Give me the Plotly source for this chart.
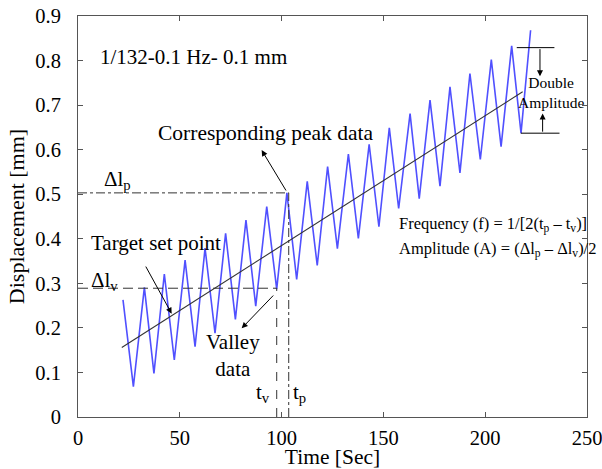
import plotly.graph_objects as go

# ---- data ----
time_s = [22.1, 27.2, 32.6, 37.3, 42.4, 47.3, 52.6, 57.5, 62.4, 67.3, 72.5, 77.3, 82.5, 87.3,
          92.7, 97.6, 102.6, 107.4, 112.6, 117.5, 122.6, 127.4, 132.8, 137.7, 143.0, 147.8,
          152.9, 157.5, 163.1, 167.6, 172.9, 177.8, 182.7, 187.6, 192.5, 197.6, 203.0, 207.8,
          213.0, 217.6, 222.3]
displacement = [0.263, 0.068, 0.291, 0.098, 0.321, 0.128, 0.352, 0.158, 0.379, 0.188, 0.412,
                0.219, 0.442, 0.249, 0.472, 0.287, 0.503, 0.309, 0.529, 0.340, 0.562, 0.378,
                0.590, 0.401, 0.612, 0.427, 0.649, 0.468, 0.681, 0.490, 0.711, 0.518, 0.741,
                0.548, 0.771, 0.578, 0.802, 0.607, 0.833, 0.637, 0.868]
trend_t = [21.5, 218.4]
trend_d = [0.156, 0.730]

dl_p = 0.503
dl_v = 0.289
t_p = 103.5
t_v = 97.6
da_top = 0.829
da_bottom = 0.637

x_ticks = [0, 50, 100, 150, 200, 250]
y_ticks = [0, 0.1, 0.2, 0.3, 0.4, 0.5, 0.6, 0.7, 0.8, 0.9]

FONT = "Liberation Serif"
LINEC = "#333333"

fig = go.Figure()
fig.add_trace(go.Scatter(x=time_s, y=displacement, mode="lines",
                         line=dict(color="#5050ff", width=1.6), showlegend=False))
fig.add_trace(go.Scatter(x=trend_t, y=trend_d, mode="lines",
                         line=dict(color="#333333", width=1.1), showlegend=False))

# reference lines
fig.add_shape(type="line", x0=0, x1=t_p, y0=dl_p, y1=dl_p,
              line=dict(color=LINEC, width=1, dash="dashdot"))
fig.add_shape(type="line", x0=t_p, x1=t_p, y0=0, y1=dl_p,
              line=dict(color=LINEC, width=1, dash="dashdot"))
fig.add_shape(type="line", x0=0, x1=t_v, y0=dl_v, y1=dl_v,
              line=dict(color=LINEC, width=1, dash="10px,5px"))
fig.add_shape(type="line", x0=t_v, x1=t_v, y0=0, y1=dl_v,
              line=dict(color=LINEC, width=1, dash="dash"))

# double amplitude markers
fig.add_shape(type="line", x0=215.5, x1=234.0, y0=da_top, y1=da_top,
              line=dict(color="black", width=1))
fig.add_shape(type="line", x0=217.5, x1=236.5, y0=da_bottom, y1=da_bottom,
              line=dict(color="black", width=1))

def arrow(x, y, ax, ay):
    fig.add_annotation(x=x, y=y, ax=ax, ay=ay, xref="x", yref="y", axref="x", ayref="y",
                       text="", showarrow=True, arrowhead=2, arrowsize=1.2,
                       arrowwidth=1, arrowcolor="black")

arrow(90.2, 0.599, 102.6, 0.505)      # corresponding peak
arrow(46.0, 0.232, 32.9, 0.341)        # target set point
arrow(80.4, 0.199, 96.6, 0.276)        # valley data
arrow(226.9, 0.765, 226.9, da_top)     # double amplitude top
arrow(228.2, 0.681, 228.2, da_bottom)  # double amplitude bottom

def label(x, y, text, size=18):
    fig.add_annotation(x=x, y=y, xref="x", yref="y", text=text, showarrow=False,
                       xanchor="left", yanchor="middle",
                       font=dict(family=FONT, size=size, color="black"))

label(9.6, 0.809, "1/132-0.1 Hz- 0.1 mm", 21)
label(38.3, 0.637, "Corresponding peak data", 21.5)
label(12.0, 0.533, "Δl<sub>p</sub>", 21)
label(5.6, 0.390, "Target set point", 21)
label(5.6, 0.306, "Δl<sub>v</sub>", 21)
label(62.0, 0.139, "Valley<br>data", 21)
label(86.2, 0.054, "t<sub>v</sub>", 21)
label(104.5, 0.054, "t<sub>p</sub>", 21)
label(156.8, 0.433, "Frequency (f) = 1/[2(t<sub>p</sub> – t<sub>v</sub>)]", 16.5)
label(156.8, 0.375, "Amplitude (A) = (Δl<sub>p</sub> – Δl<sub>v</sub>)/2", 16.5)
label(215.3, 0.729, "Double<br>Amplitude", 15.5)

axis_common = dict(showline=True, linecolor="#555555", linewidth=1, mirror="ticks",
                   ticks="inside", ticklen=5, tickcolor="#555555", showgrid=False,
                   zeroline=False, automargin=False, ticklabeloverflow="allow",
                   tickfont=dict(family=FONT, size=20.5, color="black"))

fig.update_xaxes(range=[0, 250], tickvals=x_ticks, ticktext=[str(v) for v in x_ticks],
                 title=dict(text="Time [Sec]", font=dict(family=FONT, size=21.5, color="black"),
                            standoff=4),
                 ticklabelstandoff=2, **axis_common)
fig.update_yaxes(range=[0, 0.9], tickvals=y_ticks,
                 ticktext=["0" if v == 0 else f"{v:.1f}" for v in y_ticks],
                 title=dict(text="Displacement [mm]", font=dict(family=FONT, size=22, color="black"),
                            standoff=4),
                 ticklabelstandoff=12, **axis_common)

fig.update_layout(width=602, height=469, margin=dict(l=78, r=15, t=16, b=52),
                  plot_bgcolor="white", paper_bgcolor="white", showlegend=False)

fig.write_html("out.html", config={"displayModeBar": False},
               post_script="document.body.style.margin='0';document.body.style.overflow='hidden';")
